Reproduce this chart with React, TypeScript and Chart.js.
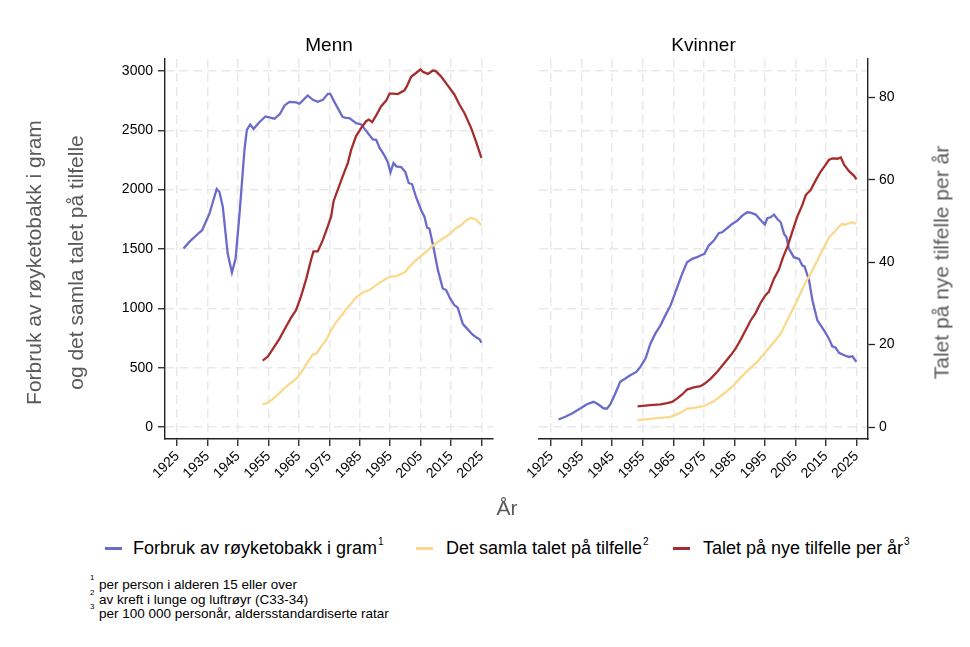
import React, { useEffect, useRef } from "react";
import { Chart, registerables } from "chart.js";

Chart.register(...registerables);

// ---------- tick labels ----------
const yearTicks = [1925, 1935, 1945, 1955, 1965, 1975, 1985, 1995, 2005, 2015, 2025];
const leftTicks = [0, 500, 1000, 1500, 2000, 2500, 3000];
const rightTicks = [0, 20, 40, 60, 80];

// ---------- Menn ----------
const menTobaccoYears = [1927.1, 1929, 1932.3, 1933.2, 1935.6, 1938, 1938.9, 1940, 1941.6, 1943, 1944.2, 1945.5, 1947.1, 1947.9, 1949, 1950.1, 1952, 1954, 1957, 1958.8, 1960.3, 1961.9, 1964.1, 1965.2, 1967.9, 1969.6, 1971.2, 1972.9, 1974.5, 1975.3, 1976.7, 1979.4, 1980.5, 1981.6, 1983.8, 1985.5, 1986.6, 1989.3, 1990.4, 1991.5, 1993.1, 1994.2, 1995.1, 1996.1, 1997, 1998.6, 2000, 2001.1, 2002.2, 2003.5, 2005.2, 2006.3, 2007.1, 2007.9, 2009.2, 2010.7, 2012.3, 2013.4, 2014.7, 2016.1, 2017.2, 2018.9, 2020.5, 2022.2, 2023.5, 2024.3, 2025];
const menTobaccoValues = [1504, 1560, 1639, 1658, 1798, 2005, 1980, 1854, 1462, 1302, 1420, 1798, 2330, 2504, 2549, 2512, 2568, 2616, 2597, 2639, 2709, 2739, 2734, 2723, 2793, 2756, 2739, 2756, 2807, 2807, 2737, 2611, 2605, 2602, 2560, 2549, 2512, 2423, 2420, 2353, 2288, 2232, 2146, 2224, 2196, 2190, 2148, 2056, 2045, 1938, 1826, 1770, 1681, 1672, 1518, 1322, 1168, 1154, 1084, 1028, 1006, 868, 823, 776, 753, 742, 711];

const menCumulativeYears = [1953.1, 1954.8, 1956.4, 1958.6, 1960.8, 1963, 1964.6, 1966.3, 1967.9, 1969.6, 1970.7, 1972.3, 1974, 1975.6, 1977.2, 1979.4, 1980.5, 1982.2, 1983.8, 1986, 1988.2, 1990.4, 1992.6, 1994.8, 1997, 1999.7, 2001.3, 2003.5, 2005.2, 2006.8, 2008.5, 2010.7, 2012.8, 2014.5, 2016.7, 2018.3, 2020, 2021.6, 2023.2, 2025];
const menCumulativeValues = [190, 207, 235, 286, 342, 384, 420, 482, 549, 613, 616, 678, 734, 818, 882, 952, 992, 1042, 1092, 1134, 1154, 1196, 1232, 1266, 1272, 1302, 1350, 1406, 1443, 1476, 1518, 1560, 1597, 1625, 1678, 1700, 1742, 1762, 1748, 1700];

const menIncidenceYears = [1953.1, 1954.8, 1956.4, 1958.6, 1960.8, 1962.5, 1964.1, 1965.7, 1967.4, 1969, 1969.8, 1971.2, 1972.9, 1974.5, 1975.6, 1976.4, 1977.8, 1979.4, 1981.1, 1982.2, 1983.8, 1985.5, 1987.1, 1988, 1989.1, 1990.4, 1992, 1993.7, 1994.8, 1995.9, 1997.5, 1999.7, 2000.5, 2001.9, 2003.5, 2005, 2005.7, 2007.4, 2009, 2009.9, 2011.7, 2013.9, 2016.1, 2017.8, 2019.4, 2021.6, 2023.2, 2025];
const menIncidenceValues = [16.1, 17.1, 18.9, 21.4, 24.4, 26.6, 28.4, 31.7, 35.9, 40.6, 42.6, 42.6, 45.4, 48.7, 51.1, 54.8, 57.6, 60.8, 64.1, 67.3, 70.6, 72.6, 74.2, 74.6, 74.0, 75.6, 77.8, 79.2, 80.9, 80.9, 80.8, 81.7, 82.7, 85.0, 85.9, 86.8, 86.2, 85.7, 86.5, 86.4, 85.1, 82.9, 80.7, 78.2, 76.2, 72.6, 69.3, 65.3];

// ---------- Kvinner ----------
const womenTobaccoYears = [1927.4, 1929.6, 1931.8, 1934.5, 1936.7, 1938.9, 1940.5, 1942.2, 1943.3, 1944.4, 1946, 1947.6, 1949.3, 1950.9, 1952.9, 1954.2, 1955.9, 1957.5, 1959.1, 1960.8, 1962.4, 1964.1, 1965.7, 1967.9, 1969.5, 1971.2, 1972.8, 1973.9, 1975.2, 1976.6, 1978.3, 1979.9, 1981, 1982.7, 1984.3, 1986, 1987.6, 1989.2, 1990.3, 1992, 1993.6, 1995, 1995.8, 1996.9, 1998, 1999.1, 2000.2, 2001.3, 2002.1, 2002.9, 2004.5, 2006.2, 2007.3, 2008, 2009.5, 2010.6, 2012.2, 2014.4, 2016, 2017.1, 2018.2, 2019.3, 2021, 2022.6, 2023.7, 2025];
const womenTobaccoValues = [64, 87, 115, 157, 193, 213, 190, 157, 157, 193, 283, 381, 409, 437, 465, 507, 577, 703, 787, 857, 941, 1025, 1137, 1291, 1389, 1417, 1431, 1445, 1459, 1529, 1571, 1633, 1641, 1675, 1711, 1739, 1781, 1809, 1806, 1790, 1745, 1706, 1759, 1767, 1790, 1753, 1725, 1627, 1599, 1501, 1431, 1417, 1361, 1353, 1235, 1067, 899, 815, 745, 681, 669, 625, 605, 591, 597, 549];

const womenCumulativeYears = [1953.3, 1957.5, 1960.8, 1964.1, 1967.3, 1969.5, 1971.7, 1975, 1978.3, 1981.6, 1984.8, 1987, 1989.2, 1992.5, 1995.2, 1998, 2000.2, 2001.8, 2003.4, 2005.6, 2007.8, 2010, 2012.2, 2014.4, 2016, 2017.7, 2019.3, 2020.4, 2021, 2022.6, 2023.7, 2025];
const womenCumulativeValues = [59, 70, 78, 87, 120, 154, 162, 176, 218, 283, 353, 415, 473, 549, 633, 717, 787, 871, 955, 1067, 1193, 1291, 1403, 1515, 1599, 1641, 1689, 1711, 1703, 1717, 1725, 1711];

const womenIncidenceYears = [1953.3, 1957.5, 1960.8, 1963, 1964.6, 1966.2, 1967.9, 1969.5, 1971.7, 1973.9, 1975.2, 1977.2, 1979.4, 1981.6, 1983.8, 1985.4, 1987, 1988.7, 1990.3, 1992, 1993.6, 1995.2, 1996.3, 1998, 1999.6, 2001, 2002.4, 2004, 2005.6, 2007.3, 2008.4, 2010, 2011.7, 2013.3, 2014.9, 2016, 2017.1, 2018.8, 2019.9, 2021, 2022.6, 2024.3, 2025];
const womenIncidenceValues = [5.0, 5.3, 5.5, 5.8, 6.1, 6.9, 7.9, 9.1, 9.6, 9.9, 10.5, 11.7, 13.4, 15.4, 17.4, 19.0, 21.1, 23.5, 25.8, 27.7, 30.1, 32.0, 32.8, 36.0, 38.2, 41.3, 43.7, 47.4, 51.0, 53.9, 56.3, 57.5, 59.9, 62.0, 63.6, 64.8, 65.2, 65.1, 65.4, 63.6, 62.1, 60.9, 60.1];

// ---------- styling ----------
const FONT = '"Liberation Sans", Arial, Helvetica, sans-serif';
const BLUE = "#6b6bcc";
const YELLOW = "#f9d98c";
const RED = "#a52d2d";
const GRID = "#e9e9e9";
const AXIS = "#222222";
const TITLE_GRAY = "#5a5a5a";

const toPoints = (xs: number[], ys: number[]) => xs.map((x, i) => ({ x, y: ys[i] }));

type PanelSpec = {
  tobacco: { x: number; y: number }[];
  cumulative: { x: number; y: number }[];
  incidence: { x: number; y: number }[];
  side: "left" | "right";
};

function buildConfig(spec: PanelSpec, canvasW: number, canvasH: number): any {
  const lineDs = (label: string, data: any, color: string, axis: string, order: number) => ({
    label,
    data,
    borderColor: color,
    backgroundColor: color,
    borderWidth: 2.3,
    pointRadius: 0,
    tension: 0,
    fill: false,
    yAxisID: axis,
    order,
  });

  const xScale = {
    type: "linear",
    min: 1921,
    max: 2028.8,
    afterBuildTicks: (s: any) => {
      s.ticks = yearTicks.map((v) => ({ value: v }));
    },
    ticks: {
      autoSkip: false,
      minRotation: 45,
      maxRotation: 45,
      padding: 2,
      color: "#000",
      font: { family: FONT, size: 14 },
      callback: (v: any) => String(v),
    },
    grid: {
      color: GRID,
      lineWidth: 1.5,
      drawTicks: true,
      tickLength: 7,
      tickColor: AXIS,
      tickWidth: 1.3,
    },
    border: { display: true, color: AXIS, width: 1.4, dash: [9, 5] },
    afterFit: (s: any) => {
      s.height = canvasH - 439;
    },
  };

  const leftY: any = {
    type: "linear",
    position: "left",
    min: -100,
    max: 3100,
    afterBuildTicks: (s: any) => {
      s.ticks = leftTicks.map((v) => ({ value: v }));
    },
    grid: {
      color: GRID,
      lineWidth: 1.5,
      drawTicks: spec.side === "left",
      tickLength: 7,
      tickColor: AXIS,
      tickWidth: 1.3,
    },
    border: { display: spec.side === "left", color: AXIS, width: 1.4, dash: [9, 5] },
    ticks: {
      display: spec.side === "left",
      padding: 5,
      color: "#000",
      font: { family: FONT, size: 14 },
      callback: (v: any) => String(v),
    },
    afterFit: (s: any) => {
      s.width = spec.side === "left" ? 165 : 0;
    },
  };

  const rightY: any =
    spec.side === "left"
      ? { type: "linear", display: false, min: -2.9, max: 89.3 }
      : {
          type: "linear",
          position: "right",
          min: -2.9,
          max: 89.3,
          afterBuildTicks: (s: any) => {
            s.ticks = rightTicks.map((v) => ({ value: v }));
          },
          grid: {
            drawOnChartArea: false,
            drawTicks: true,
            tickLength: 7,
            tickColor: AXIS,
            tickWidth: 1.3,
          },
          border: { display: true, color: AXIS, width: 1.4 },
          ticks: {
            padding: 4,
            color: "#000",
            font: { family: FONT, size: 14 },
            callback: (v: any) => String(v),
          },
          afterFit: (s: any) => {
            s.width = canvasW - 358;
          },
        };

  return {
    type: "line",
    data: {
      datasets: [
        lineDs("Forbruk av røyketobakk i gram", spec.tobacco, BLUE, "y", 3),
        lineDs("Det samla talet på tilfelle", spec.cumulative, YELLOW, "y", 2),
        lineDs("Talet på nye tilfelle per år", spec.incidence, RED, "y2", 1),
      ],
    },
    options: {
      animation: false,
      responsive: false,
      maintainAspectRatio: false,
      parsing: true,
      layout: {
        padding:
          spec.side === "left"
            ? { top: 59, left: 0, right: canvasW - 493, bottom: 0 }
            : { top: 59, left: 29, right: 0, bottom: 0 },
      },
      plugins: {
        legend: { display: false },
        tooltip: { enabled: false },
        title: { display: false },
      },
      scales: { x: xScale, y: leftY, y2: rightY },
    },
  };
}

function Panel({ spec, left, width, height }: { spec: PanelSpec; left: number; width: number; height: number }) {
  const ref = useRef<HTMLCanvasElement | null>(null);
  useEffect(() => {
    if (!ref.current) return;
    const chart = new Chart(ref.current, buildConfig(spec, width, height));
    return () => chart.destroy();
  }, []);
  return (
    <canvas
      ref={ref}
      width={width}
      height={height}
      style={{ position: "absolute", left, top: 0, width, height }}
    />
  );
}

const abs = (s: React.CSSProperties): React.CSSProperties => ({ position: "absolute", whiteSpace: "nowrap", ...s });

function RotatedTitle({ text, cx, cy, size }: { text: string; cx: number; cy: number; size: number }) {
  const w = 420;
  return (
    <div
      style={abs({
        left: cx - w / 2,
        top: cy - size / 2,
        width: w,
        height: size,
        lineHeight: `${size}px`,
        fontSize: size,
        textAlign: "center",
        color: TITLE_GRAY,
        transform: "rotate(-90deg)",
        transformOrigin: "50% 50%",
      })}
    >
      {text}
    </div>
  );
}

function LegendItem({ color, x, textX, text, sup }: { color: string; x: number; textX: number; text: string; sup: string }) {
  return (
    <>
      <div style={abs({ left: x, top: 546.5, width: 17, height: 3, background: color })} />
      <div style={abs({ left: textX, top: 539, fontSize: 18, lineHeight: "18px", color: "#000" })}>
        {text}
        <span style={{ fontSize: 10, position: "relative", top: -9, marginLeft: 1 }}>{sup}</span>
      </div>
    </>
  );
}

export default function App() {
  const men: PanelSpec = {
    tobacco: toPoints(menTobaccoYears, menTobaccoValues),
    cumulative: toPoints(menCumulativeYears, menCumulativeValues),
    incidence: toPoints(menIncidenceYears, menIncidenceValues),
    side: "left",
  };
  const women: PanelSpec = {
    tobacco: toPoints(womenTobaccoYears, womenTobaccoValues),
    cumulative: toPoints(womenCumulativeYears, womenCumulativeValues),
    incidence: toPoints(womenIncidenceYears, womenIncidenceValues),
    side: "right",
  };

  return (
    <div
      style={{
        position: "absolute",
        left: 0,
        top: 0,
        width: 970,
        height: 647,
        background: "#fff",
        fontFamily: FONT,
        overflow: "hidden",
      }}
    >
      <Panel spec={men} left={0} width={510} height={500} />
      <Panel spec={women} left={510} width={460} height={500} />

      <div style={abs({ left: 229, width: 200, top: 35, fontSize: 19, lineHeight: "19px", textAlign: "center", color: "#000" })}>Menn</div>
      <div style={abs({ left: 603.5, width: 200, top: 35, fontSize: 19, lineHeight: "19px", textAlign: "center", color: "#000" })}>Kvinner</div>

      <RotatedTitle text="Forbruk av røyketobakk i gram" cx={33} cy={262} size={21} />
      <RotatedTitle text="og det samla talet på tilfelle" cx={75} cy={262} size={21} />
      <RotatedTitle text="Talet på nye tilfelle per år" cx={941} cy={262} size={21} />

      <div style={abs({ left: 457, width: 100, top: 497, fontSize: 21, lineHeight: "21px", textAlign: "center", color: TITLE_GRAY })}>År</div>

      <LegendItem color={BLUE} x={105} textX={133} text="Forbruk av røyketobakk i gram" sup="1" />
      <LegendItem color={YELLOW} x={416} textX={446} text="Det samla talet på tilfelle" sup="2" />
      <LegendItem color={RED} x={673} textX={703} text="Talet på nye tilfelle per år" sup="3" />

      <div style={abs({ left: 90, top: 574, fontSize: 8, lineHeight: "8px" })}>1</div>
      <div style={abs({ left: 90, top: 589, fontSize: 8, lineHeight: "8px" })}>2</div>
      <div style={abs({ left: 90, top: 603, fontSize: 8, lineHeight: "8px" })}>3</div>
      <div style={abs({ left: 99, top: 578, fontSize: 13.5, lineHeight: "14.5px", color: "#000" })}>
        per person i alderen 15 eller over
        <br />
        av kreft i lunge og luftrøyr (C33-34)
        <br />
        per 100 000 personår, aldersstandardiserte ratar
      </div>
    </div>
  );
}
